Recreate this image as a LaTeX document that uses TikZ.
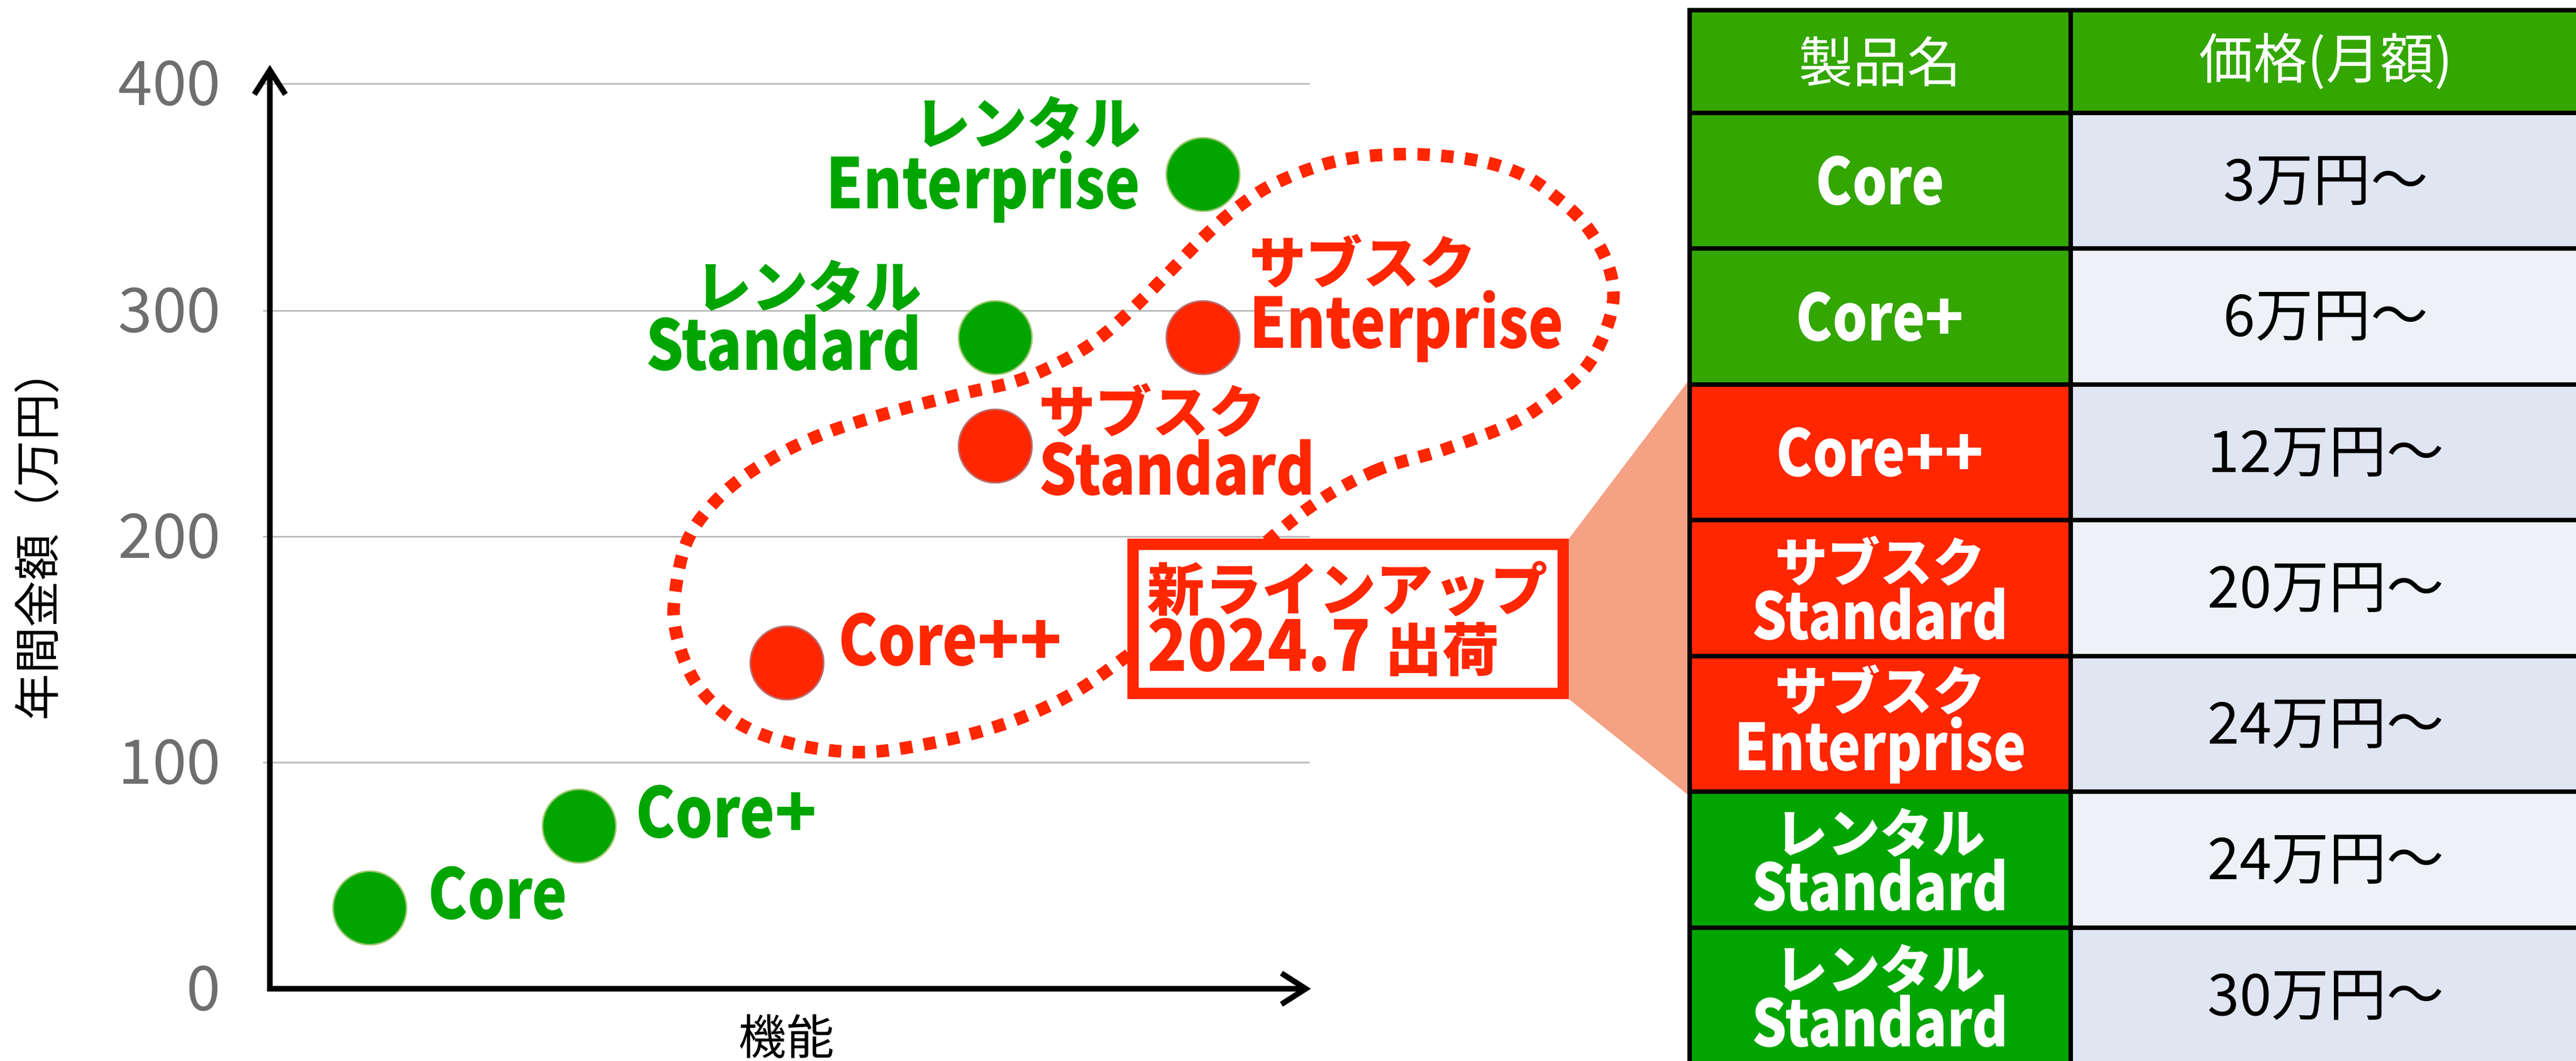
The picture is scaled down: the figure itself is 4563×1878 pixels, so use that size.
\documentclass[tikz,border=0pt]{standalone}
\usepackage{fontspec}
\setmainfont{Noto Sans CJK JP}
\newfontfamily\latinfam{Noto Sans CJK JP}[FakeStretch=0.85]
\newfontfamily\numfam{Noto Sans CJK JP}[FakeStretch=0.92]
\usetikzlibrary{arrows.meta}
\pgfdeclarelayer{background}
\pgfsetlayers{background,main}
\definecolor{cgreen}{HTML}{00A500}
\definecolor{hgreen}{HTML}{33A600}
\definecolor{cred}{HTML}{FF2600}
\definecolor{salmon}{HTML}{F5A183}
\definecolor{gridgray}{HTML}{BDBDBD}
\definecolor{tickgray}{HTML}{6E6E6E}
\definecolor{pdark}{HTML}{DFE6F2}
\definecolor{plight}{HTML}{EEF2F8}
\definecolor{gedge}{HTML}{9CC870}
\definecolor{redge}{HTML}{B87070}
\newcommand{\chartkana}{\fontsize{28.5}{31}\selectfont}
\newcommand{\chartlatin}{\fontsize{35}{31}\latinfam}
\newcommand{\tabkana}{\fontsize{26.5}{28.5}\selectfont}
\newcommand{\tablatin}{\fontsize{32.5}{28.5}\latinfam}
\newcommand{\tabhead}{\fontsize{27.3}{30}\selectfont}
\newcommand{\tabprice}{\fontsize{29}{30}\selectfont}
\newcommand{\calloutkana}{\fontsize{28.8}{30}\rmfamily}
\newcommand{\calloutnum}{\fontsize{36}{30}\numfam}
\begin{document}
\begin{tikzpicture}[x=0.01cm, y=-0.01cm,
  grid/.style={gridgray, line width=0.85pt},
  axis/.style={black, line width=2.8pt, {Straight Barb[length=0.43cm, width=0.55cm]}-{Straight Barb[length=0.43cm, width=0.55cm]}},
  tick/.style={text=tickgray, font=\fontsize{31}{31}\selectfont, inner sep=0pt, anchor=east},
  dot/.style={circle, minimum size=1.3cm, inner sep=0pt, line width=0.8pt},
  gdot/.style={dot, fill=cgreen, draw=gedge},
  rdot/.style={dot, fill=cred, draw=redge},
  glab/.style={text=cgreen, font=\bfseries, inner sep=0pt},
  rlab/.style={text=cred, font=\bfseries, inner sep=0pt},
  blob/.style={cred, line width=6.3pt, dash pattern=on 6.2pt off 5.8pt},
  tcell/.style={draw=black, line width=2.28pt, inner sep=0pt, align=center},
  namecell/.style={tcell, minimum width=6.75cm, minimum height=2.405cm, text=white, font=\bfseries},
  pricecell/.style={tcell, minimum width=9.04cm, minimum height=2.405cm, text=black, font=\tabprice},
]
\useasboundingbox (0,0) rectangle (4563,1878);

% grid lines
\draw[grid] (466,148) -- (2320,148);
\draw[grid] (466,550) -- (2320,550);
\draw[grid] (466,950) -- (2320,950);
\draw[grid] (466,1350) -- (2320,1350);

% tick labels
\node[tick] (t400) at (392,148) {400};
\node[tick] (t300) at (392,550) {300};
\node[tick] (t200) at (392,950) {200};
\node[tick] (t100) at (392,1350) {100};
\node[tick] (t0) at (392,1751) {0};

% axes
\coordinate (origin) at (478,1751);
\coordinate (ytip) at (478,115);
\coordinate (xtip) at (2322,1751);
\draw[axis] (ytip) -- (origin) -- (xtip);

\node[rotate=90, font=\fontsize{23.5}{23.5}\selectfont] (ylab) at (65,946) {年間金額（万円）};
\node[font=\fontsize{24}{24}\selectfont] (xlab) at (1393,1835) {機能};

% dotted outline
\draw[blob] plot[smooth cycle, tension=0.6] coordinates {
 (2312,904) (2433,835) (2555,797) (2676,751) (2748,705) (2809,651)
 (2845,583) (2858,521) (2845,460) (2809,399) (2761,353) (2700,311)
 (2615,284) (2494,273) (2373,284) (2264,322) (2191,368) (2130,422)
 (2070,483) (2009,544) (1948,598) (1888,636) (1803,674) (1706,697)
 (1585,728) (1464,766) (1367,812) (1282,873) (1221,950) (1197,1042)
 (1197,1118) (1233,1210) (1306,1279) (1403,1317) (1524,1332) (1645,1317)
 (1767,1286) (1876,1241) (1973,1179) (2150,1040)};

% data points
\node[gdot] (pcore) at (655,1608) {};
\node[gdot] (pcorep) at (1026,1463) {};
\node[rdot] (pcorepp) at (1394,1174) {};
\node[rdot] (psubs) at (1763,790) {};
\node[rdot] (psube) at (2131,598) {};
\node[gdot] (prens) at (1763,598) {};
\node[gdot] (prene) at (2131,309) {};

% labels
\node[glab, anchor=base west] (lcore) at (758,1627) {\chartlatin Core};
\node[glab, anchor=base west] (lcorep) at (1126,1483) {\chartlatin Core{\rmfamily +}};
\node[rlab, anchor=base west] (lcorepp) at (1485,1178) {\chartlatin Core{\rmfamily ++}};
\node[rlab, anchor=north west, align=left] (lsubs) at (1840,678) {\chartkana サブスク\\\chartlatin Standard};
\node[rlab, anchor=north west, align=left] (lsube) at (2213,414) {\chartkana サブスク\\\chartlatin Enterprise};
\node[glab, anchor=north east, align=right] (lrens) at (1633,460) {\chartkana レンタル\\\chartlatin Standard};
\node[glab, anchor=north east, align=right] (lrene) at (2021,170) {\chartkana レンタル\\\chartlatin Enterprise};

% callout
\node[draw=cred, line width=5.7pt, fill=white, minimum width=7.62cm, minimum height=2.64cm,
      text width=7.1cm, align=left, inner xsep=0.26cm, text=cred, font=\bfseries]
  (callout) at (2388,1096) {\calloutkana 新ラインアップ\\\calloutnum 2024.7\hspace{0.25cm}\calloutkana 出荷};

% table
\node[namecell, fill=hgreen, minimum height=1.82cm, font=\tabhead] (h1) at (3330.5,109) {製品名};
\node[pricecell, fill=hgreen, minimum height=1.82cm, text=white, font=\tabhead] (h2) at (4120,109) {価格(月額)};

\node[namecell, fill=hgreen] (n1) at (3330.5,320.25) {\tablatin Core};
\node[pricecell, fill=pdark] (v1) at (4120,320.25) {3万円〜};
\node[namecell, fill=hgreen] (n2) at (3330.5,560.75) {\tablatin Core{\rmfamily +}};
\node[pricecell, fill=plight] (v2) at (4120,560.75) {6万円〜};
\node[namecell, fill=cred] (n3) at (3330.5,801.25) {\tablatin Core{\rmfamily ++}};
\node[pricecell, fill=pdark] (v3) at (4120,801.25) {12万円〜};
\node[namecell, fill=cred] (n4) at (3330.5,1041.75) {\tabkana サブスク\\\tablatin Standard};
\node[pricecell, fill=plight] (v4) at (4120,1041.75) {20万円〜};
\node[namecell, fill=cred] (n5) at (3330.5,1282.25) {\tabkana サブスク\\\tablatin Enterprise};
\node[pricecell, fill=pdark] (v5) at (4120,1282.25) {24万円〜};
\node[namecell, fill=cgreen] (n6) at (3330.5,1522.75) {\tabkana レンタル\\\tablatin Standard};
\node[pricecell, fill=plight] (v6) at (4120,1522.75) {24万円〜};
\node[namecell, fill=cgreen] (n7) at (3330.5,1763.25) {\tabkana レンタル\\\tablatin Standard};
\node[pricecell, fill=pdark] (v7) at (4120,1763.25) {30万円〜};

% wedge from callout to table
\begin{pgfonlayer}{background}
\fill[salmon] (callout.north east) -- (n3.north west) -- (n5.south west) -- (callout.south east) -- cycle;
\end{pgfonlayer}
\end{tikzpicture}
\end{document}
